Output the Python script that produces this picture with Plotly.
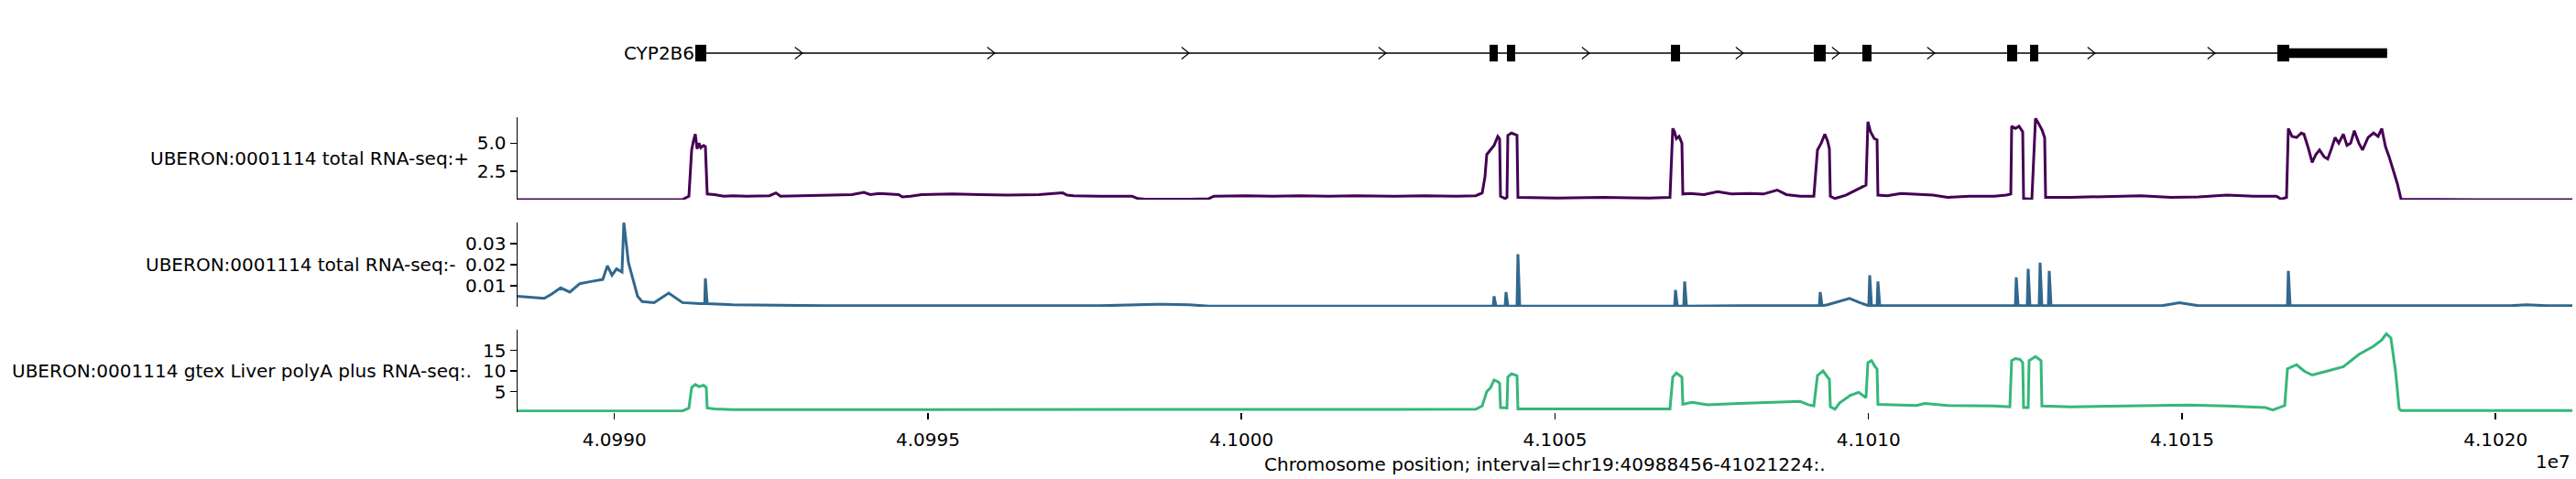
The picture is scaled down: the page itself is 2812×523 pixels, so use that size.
import plotly.graph_objects as go

W, H = 2812, 523
X0, X1 = 40988456, 41021224

# ---------------- gene model ----------------
gene_name = "CYP2B6"
exon_starts = [40991290, 41003956, 41004234, 41006849, 41009128, 41009902, 41012210, 41012576, 41016520]
exon_ends = [40991465, 41004088, 41004366, 41006995, 41009318, 41010048, 41012371, 41012707, 41016710]
utr_start, utr_end = 41016710, 41018270
arrow_pos = [40992999, 40996067, 40999165, 41002306, 41005549, 41008003, 41009537, 41011056, 41013613, 41015527]

# ---------------- tracks ----------------
track_labels = [
    "UBERON:0001114 total RNA-seq:+",
    "UBERON:0001114 total RNA-seq:-",
    "UBERON:0001114 gtex Liver polyA plus RNA-seq:.",
]
track_colors = ["#440154", "#31688e", "#35b779"]
track_ranges = [[0, 7.3], [0, 0.04], [0, 20]]
track_ticks = [[2.5, 5.0], [0.01, 0.02, 0.03], [5, 10, 15]]
track_ticktext = [["2.5", "5.0"], ["0.01", "0.02", "0.03"], ["5", "10", "15"]]

plus_pos = [40988456, 40991086, 40991188, 40991232, 40991261, 40991290, 40991319, 40991349, 40991378, 40991422,
            40991451, 40991480, 40991597, 40991743, 40991889, 40992108, 40992474, 40992576, 40992649, 40993058,
            40993496, 40993788, 40993978, 40994080, 40994227, 40994343, 40994533, 40994592, 40994723, 40994899,
            40995395, 40995834, 40996272, 40996769, 40997148, 40997221, 40997324, 40997733, 40998259, 40998346,
            40998463, 40999194, 40999471, 40999559, 41000070, 41000494, 41000947, 41001385, 41001823, 41002408,
            41002919, 41003430, 41003737, 41003839, 41003883, 41003912, 41003971, 41004029, 41004088, 41004117,
            41004131, 41004205, 41004234, 41004248, 41004307, 41004365, 41004394, 41004409, 41005037, 41005768,
            41006498, 41006834, 41006878, 41006907, 41006936, 41006980, 41007024, 41007039, 41007156, 41007375,
            41007594, 41007813, 41008105, 41008324, 41008543, 41008690, 41008909, 41009128, 41009186, 41009245,
            41009303, 41009347, 41009376, 41009391, 41009464, 41009639, 41009785, 41009902, 41009960, 41009990,
            41010033, 41010092, 41010136, 41010150, 41010296, 41010516, 41010764, 41011027, 41011261, 41011611,
            41012006, 41012196, 41012269, 41012283, 41012342, 41012400, 41012459, 41012473, 41012605, 41012663,
            41012707, 41012765, 41012809, 41012824, 41013218, 41013803, 41014343, 41014825, 41015263, 41015716,
            41016140, 41016505, 41016578, 41016666, 41016695, 41016754, 41016827, 41016900, 41016944, 41017017,
            41017075, 41017133, 41017192, 41017265, 41017323, 41017382, 41017440, 41017499, 41017572, 41017630,
            41017689, 41017747, 41017820, 41017879, 41017966, 41018054, 41018127, 41018185, 41018244, 41018302,
            41018361, 41018434, 41018492, 41019646, 41021224]
plus_val = [0.0, 0.02, 0.3, 4.4, 5.2, 5.8, 4.5, 5.0, 4.6, 4.8,
            4.7, 0.5, 0.45, 0.3, 0.35, 0.3, 0.35, 0.6, 0.3, 0.35,
            0.4, 0.45, 0.65, 0.45, 0.55, 0.5, 0.45, 0.25, 0.3, 0.45,
            0.5, 0.45, 0.4, 0.45, 0.6, 0.4, 0.35, 0.3, 0.3, 0.1,
            0.05, 0.05, 0.08, 0.3, 0.35, 0.3, 0.35, 0.3, 0.35, 0.3,
            0.35, 0.3, 0.35, 0.6, 2.0, 4.0, 4.4, 4.8, 5.6, 5.4,
            0.3, 0.1, 0.2, 5.7, 5.9, 5.8, 5.7, 0.2, 0.15, 0.2,
            0.15, 0.2, 6.3, 6.0, 5.4, 5.6, 5.0, 0.5, 0.55, 0.45,
            0.7, 0.5, 0.55, 0.5, 0.85, 0.45, 0.3, 0.3, 4.4, 5.0,
            5.8, 5.2, 4.5, 0.3, 0.1, 0.4, 0.8, 1.1, 1.3, 6.9,
            6.0, 5.4, 5.3, 0.4, 0.35, 0.55, 0.45, 0.4, 0.2, 0.3,
            0.3, 0.4, 0.5, 6.5, 6.3, 6.5, 6.0, 0.1, 0.05, 7.2,
            6.8, 6.2, 5.5, 0.2, 0.2, 0.25, 0.35, 0.2, 0.25, 0.4,
            0.3, 0.3, 0.05, 0.2, 6.3, 5.6, 5.5, 5.9, 5.8, 4.5,
            3.3, 4.0, 4.4, 3.8, 3.6, 4.5, 5.5, 5.0, 5.8, 4.8,
            5.0, 6.1, 5.0, 4.4, 5.5, 5.9, 5.6, 6.3, 4.7, 3.8,
            2.8, 1.4, 0.05, 0.0, 0.0]

minus_pos = [40988456, 40988675, 40988880, 40988997, 40989143, 40989289, 40989376, 40989449, 40989625, 40989815,
             40989888, 40989961, 40990034, 40990121, 40990151, 40990224, 40990297, 40990370, 40990443, 40990633,
             40990866, 40991086, 40991378, 40991440, 40991451, 40991480, 40991889, 40993350, 40997733, 40998638,
             40999164, 40999486, 41003576, 41004015, 41004029, 41004058, 41004205, 41004219, 41004248, 41004394,
             41004409, 41004438, 41006907, 41006922, 41006951, 41007053, 41007068, 41007097, 41007959, 41009215,
             41009230, 41009259, 41009347, 41009566, 41009698, 41009858, 41010004, 41010019, 41010048, 41010136,
             41010150, 41010180, 41012342, 41012356, 41012386, 41012531, 41012546, 41012575, 41012721, 41012736,
             41012765, 41012868, 41012882, 41012911, 41014679, 41014957, 41015263, 41016681, 41016695, 41016724,
             41020231, 41020494, 41020815, 41021224]
minus_val = [0.005, 0.0045, 0.004, 0.006, 0.009, 0.007, 0.009, 0.011, 0.012, 0.013,
             0.0195, 0.015, 0.018, 0.0165, 0.040, 0.021, 0.013, 0.005, 0.0025, 0.002,
             0.0065, 0.002, 0.0015, 0.0015, 0.0135, 0.0015, 0.001, 0.0005, 0.0005, 0.0012,
             0.001, 0.0003, 0.0003, 0.0003, 0.005, 0.0003, 0.0003, 0.007, 0.0003, 0.0003,
             0.025, 0.0003, 0.0003, 0.008, 0.0003, 0.0003, 0.012, 0.0003, 0.0005, 0.0005,
             0.007, 0.0005, 0.001, 0.003, 0.004, 0.002, 0.0005, 0.015, 0.0005, 0.0005,
             0.012, 0.0005, 0.0005, 0.014, 0.0005, 0.0005, 0.018, 0.0005, 0.0005, 0.021,
             0.0005, 0.0005, 0.017, 0.0005, 0.0005, 0.002, 0.0005, 0.0005, 0.017, 0.0005,
             0.0005, 0.001, 0.0005, 0.0005]

gtex_pos = [40988456, 40991086, 40991188, 40991232, 40991290, 40991349, 40991422, 40991465, 40991480, 40991597,
            40991889, 41003737, 41003839, 41003912, 41003971, 41004029, 41004088, 41004117, 41004131, 41004234,
            41004248, 41004307, 41004365, 41004394, 41004409, 41005037, 41006498, 41006834, 41006878, 41006936,
            41007024, 41007039, 41007185, 41007433, 41007930, 41008543, 41008909, 41009040, 41009128, 41009186,
            41009274, 41009347, 41009376, 41009391, 41009464, 41009537, 41009712, 41009844, 41009931, 41009960,
            41009990, 41010048, 41010107, 41010136, 41010150, 41010764, 41010895, 41011261, 41012006, 41012254,
            41012283, 41012342, 41012415, 41012459, 41012473, 41012546, 41012561, 41012663, 41012751, 41012765,
            41013233, 41014475, 41015088, 41015716, 41016330, 41016447, 41016637, 41016681, 41016827, 41016944,
            41017075, 41017323, 41017572, 41017820, 41018054, 41018185, 41018258, 41018330, 41018404, 41018463,
            41018492, 41021224]
gtex_val = [0.3, 0.3, 1.0, 6.0, 6.7, 6.2, 6.5, 6.0, 1.0, 0.8,
            0.6, 0.7, 1.5, 5.0, 5.9, 7.8, 7.4, 7.0, 1.1, 1.0,
            8.5, 9.3, 9.0, 8.8, 0.8, 0.8, 0.8, 0.8, 8.5, 9.5,
            8.5, 1.9, 2.4, 1.8, 2.1, 2.4, 2.6, 1.8, 1.5, 8.9,
            10.0, 8.5, 8.0, 1.3, 0.7, 2.2, 4.1, 4.8, 3.7, 3.5,
            12.0, 12.5, 11.0, 10.5, 1.9, 1.6, 2.1, 1.6, 1.5, 1.3,
            12.5, 13.0, 12.8, 12.0, 1.1, 1.1, 12.5, 13.5, 12.5, 1.5,
            1.3, 1.6, 1.7, 1.5, 1.1, 0.5, 1.6, 10.5, 11.5, 10.0,
            9.0, 10.0, 11.0, 14.0, 16.0, 17.5, 19.0, 18.0, 10.0, 0.8,
            0.4, 0.4]

track_pos = [plus_pos, minus_pos, gtex_pos]
track_val = [plus_val, minus_val, gtex_val]

xtick_vals = [40990000, 40995000, 41000000, 41005000, 41010000, 41015000, 41020000]
xtick_text = ["4.0990", "4.0995", "4.1000", "4.1005", "4.1010", "4.1015", "4.1020"]
xlabel = "Chromosome position; interval=chr19:40988456-41021224:."
offset_text = "1e7"

# ---------------- layout geometry (pixels) ----------------
FONT = "DejaVu Sans"
FS = 20
plot_left, plot_right = 565, 2808
gene_px = (20, 96)
track_px = [(128, 218), (243, 335), (360, 450)]
label_right_px = [514, 500, 517]


def ydom(top, bottom):
    return [1 - bottom / H, 1 - top / H]


xdom = [plot_left / W, plot_right / W]

fig = go.Figure()

# gene backbone
fig.add_trace(go.Scatter(x=[exon_starts[0], utr_end], y=[0, 0], mode="lines",
                         line=dict(color="black", width=1.3), xaxis="x", yaxis="y",
                         hoverinfo="skip", showlegend=False))
# chevrons
cx, cy = [], []
aw, ah = 120, 0.17
for a in arrow_pos:
    cx += [a - aw, a, a - aw, None]
    cy += [ah, 0, -ah, None]
fig.add_trace(go.Scatter(x=cx, y=cy, mode="lines", line=dict(color="black", width=1.2),
                         xaxis="x", yaxis="y", hoverinfo="skip", showlegend=False))

shapes = []
for s, e in zip(exon_starts, exon_ends):
    shapes.append(dict(type="rect", xref="x", yref="y", x0=s, x1=e, y0=-0.24, y1=0.24,
                       fillcolor="black", line=dict(width=0)))
shapes.append(dict(type="rect", xref="x", yref="y", x0=utr_start, x1=utr_end, y0=-0.135, y1=0.135,
                   fillcolor="black", line=dict(width=0)))

for i in range(3):
    n = i + 2
    fig.add_trace(go.Scatter(x=track_pos[i], y=track_val[i], mode="lines",
                             line=dict(color=track_colors[i], width=3),
                             xaxis=f"x{n}", yaxis=f"y{n}", showlegend=False))

layout = dict(
    width=W, height=H, autosize=False,
    margin=dict(l=0, r=0, t=0, b=0),
    paper_bgcolor="white", plot_bgcolor="white",
    font=dict(family=FONT, size=FS, color="black"),
    shapes=shapes,
    xaxis=dict(domain=xdom, range=[X0, X1], visible=False, anchor="y"),
    yaxis=dict(domain=ydom(*gene_px), range=[-1, 1], visible=False, anchor="x"),
)
for i in range(3):
    n = i + 2
    top, bot = track_px[i]
    last = i == 2
    layout[f"xaxis{n}"] = dict(
        domain=xdom, range=[X0, X1], anchor=f"y{n}", showgrid=False, zeroline=False,
        showline=False,
        ticks="outside" if last else "", ticklen=7, tickwidth=1.5, tickcolor="black",
        showticklabels=last, tickvals=xtick_vals, ticktext=xtick_text,
        ticklabelstandoff=5,
        tickfont=dict(family=FONT, size=FS, color="black"),
    )
    layout[f"yaxis{n}"] = dict(
        domain=ydom(top, bot), range=track_ranges[i], anchor=f"x{n}", showgrid=False,
        zeroline=False, showline=True, linecolor="black", linewidth=1.5,
        ticks="outside", ticklen=7, tickwidth=1.5, tickcolor="black",
        tickvals=track_ticks[i], ticktext=track_ticktext[i],
        tickfont=dict(family=FONT, size=FS, color="black"),
    )

annotations = []
for i in range(3):
    top, bot = track_px[i]
    annotations.append(dict(text=track_labels[i], xref="paper", yref="paper",
                            x=label_right_px[i] / W, y=1 - (top + bot) / 2 / H,
                            xanchor="right", yanchor="middle", showarrow=False,
                            font=dict(family=FONT, size=FS, color="black")))
annotations.append(dict(text=xlabel, xref="paper", yref="paper",
                        x=(plot_left + plot_right) / 2 / W, y=1 - 507 / H,
                        xanchor="center", yanchor="middle", showarrow=False,
                        font=dict(family=FONT, size=FS, color="black")))
annotations.append(dict(text=offset_text, xref="paper", yref="paper",
                        x=2808 / W, y=1 - 504 / H,
                        xanchor="right", yanchor="middle", showarrow=False,
                        font=dict(family=FONT, size=FS, color="black")))
annotations.append(dict(text=gene_name, xref="x", yref="y", x=exon_starts[0], y=0,
                        xanchor="right", yanchor="middle", showarrow=False, xshift=1,
                        font=dict(family=FONT, size=FS, color="black")))
layout["annotations"] = annotations

fig.update_layout(**layout)
fig.write_html("out.html", config={"displayModeBar": False, "staticPlot": True},
               post_script="document.body.style.margin='0px';document.body.style.overflow='hidden';")
